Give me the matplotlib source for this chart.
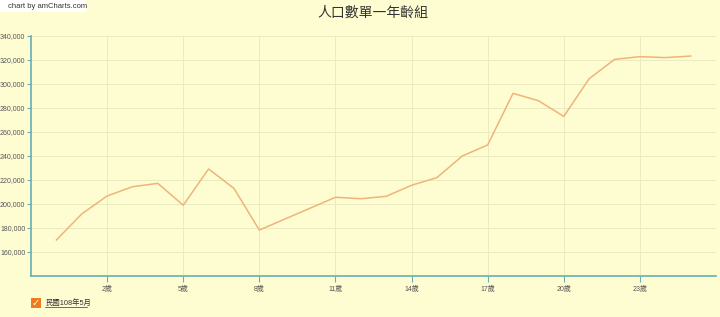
import matplotlib.pyplot as plt
from matplotlib.patches import Rectangle

plt.rcParams['font.family'] = ['Liberation Sans', 'Noto Sans CJK TC', 'DejaVu Sans']

# population by single year of age
ages = [f'{i}歲' for i in range(26)]
population = [170000, 191700, 206700, 214400, 217200, 199000, 229200, 213000,
              178300, 187400, 196500, 205600, 204400, 206400, 215600, 222000,
              240000, 249200, 292200, 286100, 273000, 304400, 320500, 322800,
              322000, 323300]
series_name = '民國108年5月'
title = '人口數單一年齡組'

bg = '#fefdd2'
axis_col = '#66afb5'

fig = plt.figure(figsize=(7.2, 3.17), dpi=100, facecolor=bg)
ax = fig.add_axes([31 / 720, 1 - 276 / 317, 685 / 720, 240 / 317])
ax.set_facecolor(bg)

x = list(range(len(ages)))
ax.plot(x, population, color='#eeb47a', linewidth=1.1)

ax.set_xlim(-1, len(ages))
ax.set_ylim(140000, 340000)

ticks = x[2::3]
ax.set_xticks(ticks)
ax.set_xticklabels([ages[i] for i in ticks])
yt = list(range(160000, 340001, 20000))
ax.set_yticks(yt)
ax.set_yticklabels([f'{v:,}' for v in yt])
ax.tick_params(axis='both', labelsize=5, colors='#555555', length=3, width=0.8,
               color=axis_col, pad=1)
ax.tick_params(axis='x', length=4, pad=3)

ax.grid(True, color='#ecebc0', linewidth=0.7)
for s in ['top', 'right']:
    ax.spines[s].set_visible(False)
for s in ['left', 'bottom']:
    ax.spines[s].set_color(axis_col)
    ax.spines[s].set_linewidth(1.2)

fig.text(373 / 720, 1 - 13 / 317, title, ha='center', va='center', fontsize=10, color='#333333',
         family=['Noto Sans CJK TC'])

# watermark
fig.patches.append(Rectangle((0, 1 - 12 / 317), 86 / 720, 12 / 317, transform=fig.transFigure,
                             facecolor='white', edgecolor='none'))
fig.text(8 / 720, 1 - 6 / 317, 'chart by amCharts.com', ha='left', va='center', fontsize=5.5, color='#333333')

# legend
fig.patches.append(Rectangle((31 / 720, 1 - 308 / 317), 10 / 720, 10 / 317, transform=fig.transFigure,
                             facecolor='#f07a1e', edgecolor='none'))
fig.text(36 / 720, 1 - 303 / 317, '✓', ha='center', va='center', fontsize=7, color='white',
         family=['DejaVu Sans'])
fig.text(45 / 720, 1 - 303 / 317, series_name, ha='left', va='center', fontsize=5.3, color='#333333')
fig.add_artist(plt.Line2D([45 / 720, 87 / 720], [1 - 307 / 317] * 2, color='#333333', linewidth=0.5))

fig.savefig('out.png', dpi=100, facecolor=bg)
